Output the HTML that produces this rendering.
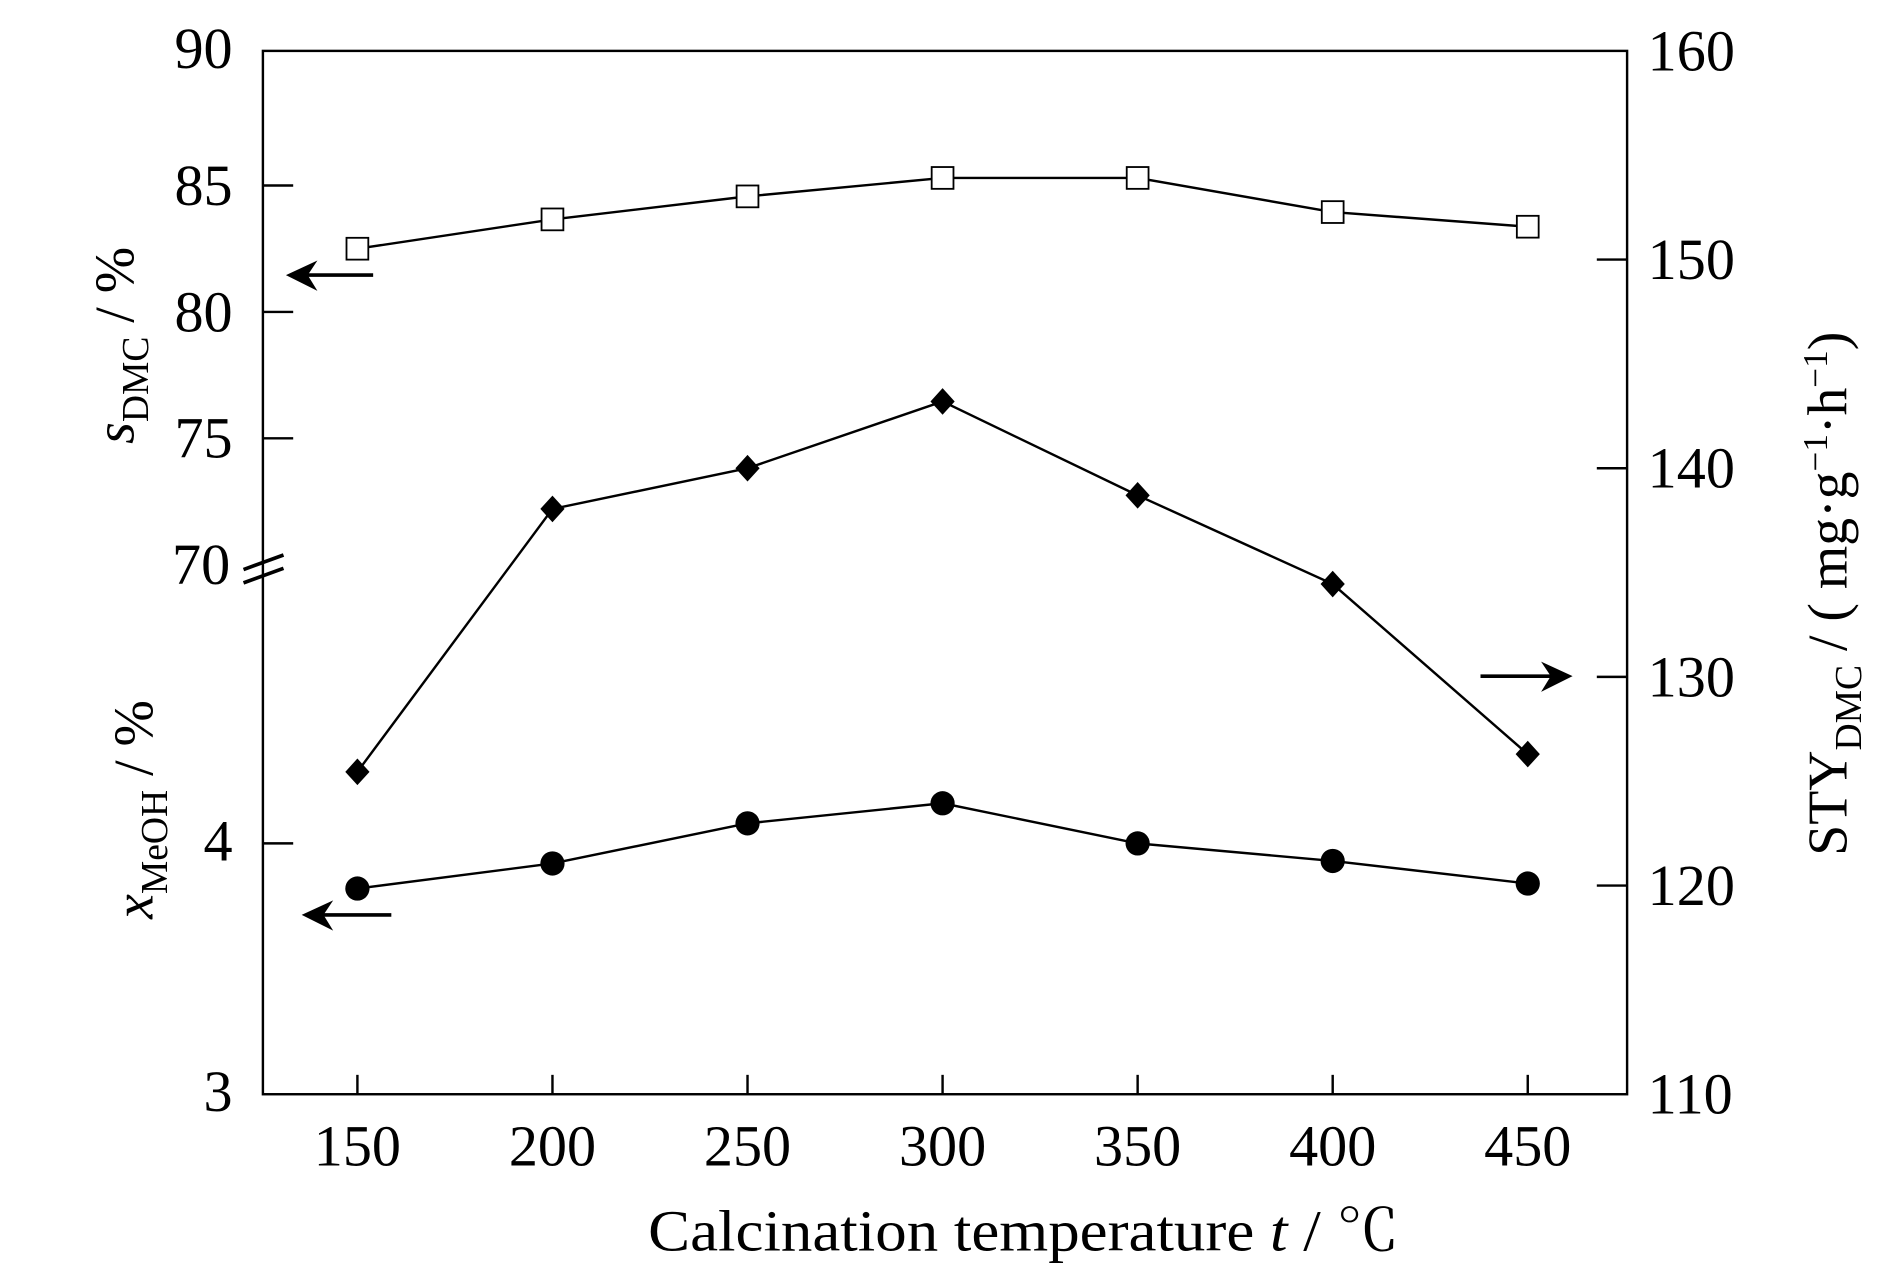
<!DOCTYPE html>
<html><head><meta charset="utf-8">
<style>
html,body{margin:0;padding:0;background:#fff;}
svg{display:block;}
text{font-family:"Liberation Serif","Noto Serif CJK SC",serif;fill:#000;}
</style></head>
<body>
<svg id="chart" width="1890" height="1276" viewBox="0 0 1560 1053" preserveAspectRatio="none" xmlns="http://www.w3.org/2000/svg">
<rect x="217" y="42" width="1126" height="861" fill="none" stroke="#000" stroke-width="2"/>
<g id="axes"></g>
<g id="marks"></g>
<g stroke="#000" stroke-width="3">
<line x1="201" y1="470" x2="234" y2="458"/><line x1="201" y1="481" x2="234" y2="469"/>
</g>
<g stroke="#000" stroke-width="3" fill="#000">
<line x1="308" y1="227" x2="245" y2="227"/><path d="M236 227 L262 215 L254 227 L262 240Z" stroke="none"/>
<line x1="323" y1="755" x2="258" y2="755"/><path d="M249 755 L275 743 L267 755 L275 768Z" stroke="none"/>
<line x1="1222" y1="558" x2="1288" y2="558"/><path d="M1298 558 L1272 546 L1280 558 L1272 571Z" stroke="none"/>
</g>
<text x="845" y="1032" font-size="48" text-anchor="middle" textLength="620" lengthAdjust="spacingAndGlyphs">Calcination temperature <tspan font-style="italic">t</tspan> / ℃</text>
<text transform="translate(110,285) rotate(-90)" font-size="46" text-anchor="middle"><tspan font-style="italic">s</tspan><tspan font-size="31" dy="12">DMC</tspan><tspan dy="-12"> / %</tspan></text>
<text transform="translate(126,668) rotate(-90)" font-size="46" text-anchor="middle"><tspan font-style="italic">x</tspan><tspan font-size="31" dy="12">MeOH</tspan><tspan dy="-12"> / %</tspan></text>
<text transform="translate(1524,490) rotate(-90)" font-size="46" text-anchor="middle">STY<tspan font-size="31" dy="12">DMC</tspan><tspan dy="-12"> / ( mg·g</tspan><tspan font-size="29" dy="-16">−1</tspan><tspan dy="16">·h</tspan><tspan font-size="29" dy="-16">−1</tspan><tspan dy="16">)</tspan></text>
</svg>
<script>
const categories=[150,200,250,300,350,400,450];
const sDMC=[82.5,83.66,84.57,85.3,85.3,83.95,83.37];
const xMeOH=[3.82,3.92,4.08,4.16,4.0,3.93,3.84];
const STY=[125.45,138.05,140.0,143.2,138.7,134.45,126.3];
const xTicks=[150,200,250,300,350,400,450];
const leftUpperTicks=[85,80,75,70];
const leftLowerTicks=[4,3];
const rightTicks=[160,150,140,130,120,110];
const NS="http://www.w3.org/2000/svg";
function xS(v){return 295+(v-150)*(1261-295)/300;}
function yS(v){return 466-(v-70)*104.3/5;}
function yX(v){return 903-(v-3)*207;}
function yR(v){return 903-(v-110)*(903-42)/50;}
function mk(tag,attrs,parent){const e=document.createElementNS(NS,tag);for(const k in attrs)e.setAttribute(k,attrs[k]);parent.appendChild(e);return e;}
const axes=document.getElementById('axes'),marks=document.getElementById('marks');
const FS=48;
xTicks.forEach(t=>{
 const l=mk('line',{x1:xS(t),x2:xS(t),y1:903,y2:887,stroke:'#000','stroke-width':2},axes);
 
 
 const tx=mk('text',{x:xS(t),y:962,'font-size':FS,'text-anchor':'middle'},axes);tx.textContent=t;
 
 
});
leftUpperTicks.forEach(t=>{
 const y=yS(t);
 if(t!==70){const l=mk('line',{x1:217,x2:242,y1:y,y2:y,stroke:'#000','stroke-width':2},axes);
 
 }
 const tx=mk('text',{x:t===70?190:192,y:y+16,'font-size':FS,'text-anchor':'end'},axes);tx.textContent=t;
 
 
});
const t90=mk('text',{x:192,y:56,'font-size':FS,'text-anchor':'end'},axes);t90.textContent='90';


leftLowerTicks.forEach(t=>{
 const y=yX(t);
 if(t!==3){const l=mk('line',{x1:217,x2:242,y1:y,y2:y,stroke:'#000','stroke-width':2},axes);
 
 }
 const tx=mk('text',{x:192,y:y+14,'font-size':FS,'text-anchor':'end'},axes);tx.textContent=t;
 
 
});
rightTicks.forEach(t=>{
 const y=yR(t);
 if(t!==160&&t!==110){const l=mk('line',{x1:1318,x2:1343,y1:y,y2:y,stroke:'#000','stroke-width':2},axes);
 
 }
 const tx=mk('text',{x:1360,y:y+16,'font-size':FS},axes);tx.textContent=t;
 
 
});
function series(vals,yf,name,shape){
 const pts=categories.map((c,i)=>[xS(c),yf(vals[i])]);
 const pl=mk('polyline',{points:pts.map(p=>p.join(',')).join(' '),fill:'none',stroke:'#000','stroke-width':2},marks);
 
 
 pts.forEach(p=>{
  let e;
  if(shape==='square')e=mk('rect',{x:p[0]-9,y:p[1]-9,width:18,height:18,fill:'#fff',stroke:'#000','stroke-width':1.5},marks);
  else if(shape==='circle')e=mk('circle',{cx:p[0],cy:p[1],r:10,fill:'#000'},marks);
  else e=mk('path',{d:`M${p[0]} ${p[1]-11} L${p[0]+10} ${p[1]} L${p[0]} ${p[1]+11} L${p[0]-10} ${p[1]}Z`,fill:'#000'},marks);
  
  
 });
}
series(sDMC,yS,'s-dmc','square');
series(STY,yR,'sty-dmc','diamond');
series(xMeOH,yX,'x-meoh','circle');
</script>
</body></html>
